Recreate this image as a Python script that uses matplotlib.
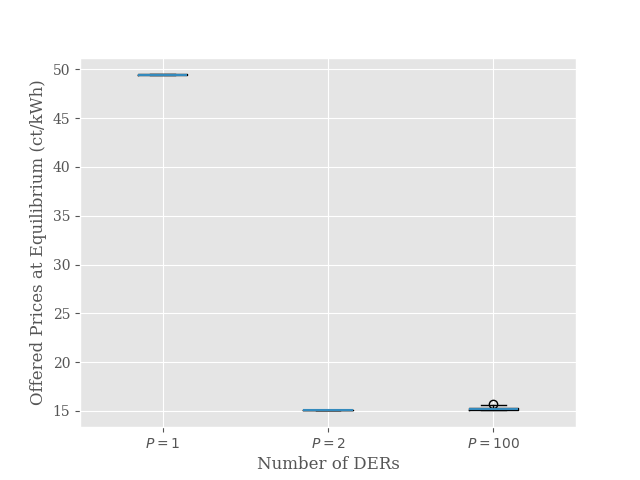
import numpy as np
import matplotlib
matplotlib.use("Agg")
import matplotlib.pyplot as plt

plt.style.use("ggplot")
plt.rcParams["font.family"] = "serif"

# offered prices at equilibrium (ct/kWh) for each number of DERs
p1 = [49.45, 49.46, 49.46, 49.46, 49.47, 49.47, 49.48]
p2 = [15.07, 15.08, 15.08, 15.09, 15.09, 15.09, 15.10]
p100 = [15.06, 15.07, 15.08, 15.15, 15.21, 15.26, 15.32, 15.64, 15.69]
tick_labels = ["$P=1$", "$P=2$", "$P=100$"]

fig, ax = plt.subplots(figsize=(6.4, 4.8), dpi=100)
ax.boxplot([p1, p2, p100], medianprops=dict(linewidth=1.5))
ax.set_xticks([1, 2, 3])
ax.set_xticklabels(tick_labels)
ax.set_xlabel("Number of DERs")
ax.set_ylabel("Offered Prices at Equilibrium (ct/kWh)")

fig.savefig("out.png")
